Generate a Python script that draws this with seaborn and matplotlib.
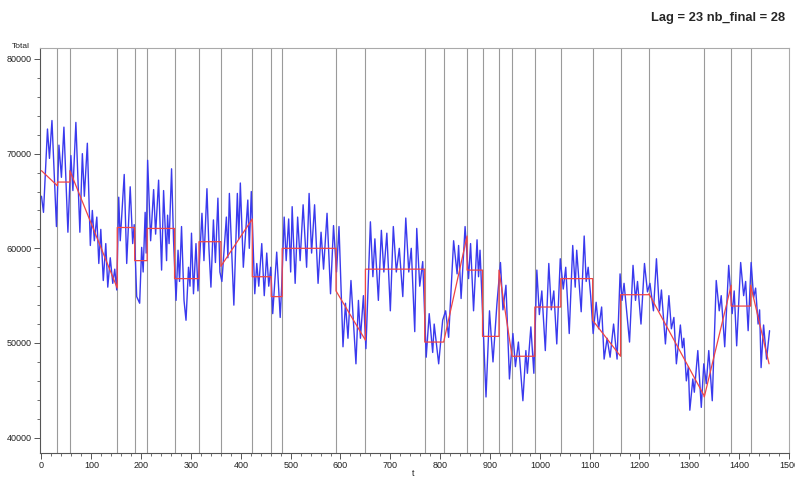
import numpy as np
import pandas as pd
import matplotlib
matplotlib.use("Agg")
import matplotlib.pyplot as plt
from matplotlib.ticker import MultipleLocator
import seaborn as sns

# Observed series: turning points (time index, total)
obs_t = [0, 4, 12, 16, 21, 30, 35, 40, 45, 53, 59, 63, 69, 77, 82, 86, 92, 98, 102, 106,
         111, 115, 119, 124, 129, 133, 138, 143, 147, 151, 155, 158, 166, 171, 178, 183, 186, 191, 197, 201,
         204, 208, 210, 213, 219, 225, 229, 235, 241, 245, 251, 253, 256, 261, 265, 270, 274, 277, 281, 286,
         290, 295, 298, 301, 305, 310, 314, 322, 326, 332, 336, 340, 345, 349, 354, 358, 362, 371, 374, 377,
         386, 393, 396, 399, 405, 414, 417, 421, 428, 432, 436, 442, 447, 452, 456, 460, 464, 472, 479, 482,
         487, 491, 496, 500, 503, 509, 514, 519, 525, 532, 537, 542, 548, 555, 561, 566, 573, 580, 586, 592,
         597, 605, 610, 615, 621, 631, 636, 640, 646, 651, 660, 665, 669, 676, 682, 687, 693, 700, 706, 712,
         718, 725, 731, 737, 742, 749, 753, 759, 765, 772, 778, 785, 788, 797, 805, 811, 817, 827, 834, 837,
         842, 850, 857, 861, 867, 874, 877, 880, 892, 899, 906, 914, 921, 926, 932, 939, 946, 951, 957, 966,
         972, 975, 982, 988, 994, 999, 1004, 1011, 1018, 1023, 1028, 1034, 1041, 1047, 1052, 1059, 1066, 1071, 1074, 1083,
         1089, 1093, 1097, 1102, 1107, 1113, 1118, 1124, 1129, 1135, 1141, 1148, 1155, 1161, 1165, 1169, 1180, 1187, 1192, 1196,
         1203, 1210, 1216, 1221, 1228, 1234, 1240, 1244, 1252, 1259, 1264, 1269, 1274, 1282, 1286, 1289, 1294, 1298, 1301, 1307,
         1310, 1317, 1324, 1329, 1334, 1339, 1346, 1354, 1360, 1364, 1371, 1379, 1386, 1390, 1395, 1403, 1409, 1413, 1418, 1424,
         1429, 1433, 1438, 1441, 1444, 1449, 1455, 1461]
obs_total = [65500, 63800, 72600, 69500, 73500, 62300, 70900, 67500, 72800, 61700, 69800, 66100, 73300, 61700, 70000, 65500, 71100, 60300, 64000, 60800,
             63300, 58400, 62000, 56600, 60500, 55900, 59000, 56300, 57800, 55600, 65400, 60800, 67800, 58400, 66500, 60500, 62500, 54900, 54200, 60100,
             57500, 63800, 59500, 69300, 60800, 66200, 61500, 67200, 57700, 66100, 58700, 63500, 60500, 68400, 60800, 54500, 59800, 56500, 62300, 54500,
             52400, 58000, 56000, 61600, 55200, 60500, 55500, 63700, 58700, 66300, 60000, 55900, 63000, 58500, 65300, 57500, 56500, 63300, 59000, 65800,
             54000, 65800, 61000, 66900, 58000, 65100, 60000, 66000, 55200, 58400, 56000, 60500, 55000, 59500, 56000, 58000, 53100, 59600, 52700, 56000,
             63300, 58700, 63100, 57500, 64400, 56300, 63300, 58700, 64600, 58000, 65800, 59500, 64600, 56300, 61700, 57800, 63700, 55200, 62400, 57500,
             62300, 49600, 54200, 50500, 56600, 47800, 54500, 50500, 55000, 49400, 62800, 57000, 61000, 54500, 61900, 57500, 61600, 53400, 62300, 57500,
             60000, 54900, 63200, 57500, 60000, 51200, 62100, 56000, 58600, 48500, 53100, 49000, 52000, 47800, 52400, 53400, 50600, 60800, 57300, 60300,
             54700, 62300, 56800, 60500, 53400, 60900, 57000, 59800, 44300, 53400, 48000, 54200, 58500, 53500, 56100, 46200, 51000, 47500, 50100, 43900,
             49200, 46800, 51700, 46800, 57700, 53000, 55500, 49200, 58400, 53500, 55500, 49900, 58900, 55700, 58000, 51000, 60300, 55900, 59800, 53300,
             61300, 56500, 58000, 55000, 51000, 54300, 51500, 53800, 48300, 50500, 48500, 52000, 48300, 57300, 54500, 56300, 50100, 58200, 54500, 56500,
             52000, 58400, 55400, 56300, 53400, 58900, 53400, 55600, 49900, 55000, 51500, 52700, 47800, 51900, 49500, 50500, 46000, 47500, 42900, 46200,
             44800, 49200, 43200, 47800, 45700, 49200, 43900, 56600, 53400, 55000, 49600, 58200, 53100, 55500, 49700, 58500, 55000, 56500, 51300, 58500,
             54800, 55800, 52000, 53500, 47400, 51900, 48300, 51300]

# Detected change points and the fitted level / trend of each segment
breaks = [32, 57, 152, 187, 212, 267, 316, 360, 423, 461, 483, 591, 650, 769, 807,
          854, 885, 918, 944, 990, 1042, 1106, 1162, 1219, 1330, 1384, 1423]
t_end = 1460
seg_start_level = [68200, 67000, 68200, 62200, 58700, 62100, 56800, 60700, 58100, 57000, 54900, 60000, 55500, 57800,
                   50100, 50100, 57700, 50700, 57700, 48600, 53800, 56800, 52400, 55100, 55200, 44300, 53900, 56100]
seg_end_level = [66600, 67000, 55800, 62200, 58700, 62100, 56800, 60700, 63100, 57000, 54900, 60000, 50300, 57800,
                 50100, 61300, 57700, 50700, 48700, 48600, 53800, 56800, 48600, 55100, 44400, 56100, 53900, 47800]

seg_bounds = [0] + breaks + [t_end]
fit_t, fit_v = [], []
for i in range(len(seg_start_level)):
    fit_t += [seg_bounds[i], seg_bounds[i + 1]]
    fit_v += [seg_start_level[i], seg_end_level[i]]

obs = pd.DataFrame({"t": obs_t, "Total": obs_total})
fit = pd.DataFrame({"t": fit_t, "Total": fit_v})

sns.set_style("ticks")
plt.rcParams["font.family"] = ["Liberation Sans Narrow", "Liberation Sans", "DejaVu Sans"]

fig = plt.figure(figsize=(7.95, 4.79), dpi=100)
ax = fig.add_axes([40 / 795, 1 - 453 / 479, 749 / 795, 405 / 479])

for b in breaks:
    ax.axvline(b, color="#9a9a9a", lw=0.8, zorder=1)

sns.lineplot(data=obs, x="t", y="Total", ax=ax, color="#3a3aee", lw=1.0,
             estimator=None, sort=False, zorder=2)
sns.lineplot(data=fit, x="t", y="Total", ax=ax, color="#f04545", lw=0.9,
             estimator=None, sort=False, zorder=3)

ax.set_xlim(-3, 1500)
ax.set_ylim(38380, 81160)
ax.xaxis.set_major_locator(MultipleLocator(100))
ax.xaxis.set_minor_locator(MultipleLocator(20))
ax.yaxis.set_major_locator(MultipleLocator(10000))
ax.yaxis.set_minor_locator(MultipleLocator(2000))
ax.tick_params(axis="both", which="major", direction="out", length=4, width=0.7,
               color="#555555", labelsize=6.5, labelcolor="#222222", pad=2)
ax.tick_params(axis="both", which="minor", direction="out", length=2, width=0.6, color="#555555")
for side in ["left", "bottom"]:
    ax.spines[side].set_color("#555555")
    ax.spines[side].set_linewidth(0.8)
for side in ["top", "right"]:
    ax.spines[side].set_color("#aaaaaa")
    ax.spines[side].set_linewidth(0.8)

ax.set_xlabel("")
ax.set_ylabel("")
fig.text(12 / 795, 1 - 47 / 479, "Total", fontsize=6, ha="left", va="center", color="#222222")
fig.text(413 / 795, 1 - 474 / 479, "t", fontsize=6.5, ha="center", va="center", color="#222222")
fig.text(785 / 795, 1 - 18 / 479, "Lag = 23 nb_final = 28", fontsize=9.3, fontweight="bold",
         ha="right", va="center", family=["Liberation Sans", "DejaVu Sans"])

fig.savefig("out.png", dpi=100)
